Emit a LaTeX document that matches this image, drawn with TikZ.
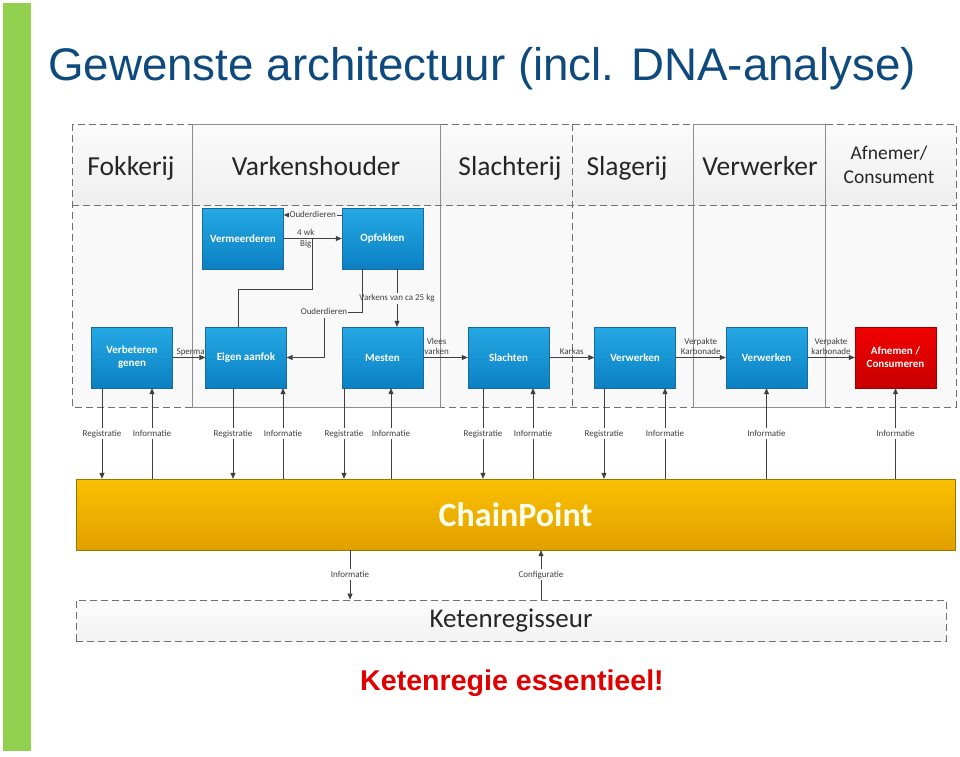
\documentclass[tikz,border=0pt]{standalone}
\usepackage{fontspec}
\setmainfont{Carlito}
\newfontfamily\titlefont{Liberation Sans}
\usetikzlibrary{arrows.meta, positioning, calc}
\definecolor{slidegreen}{HTML}{92D050}
\definecolor{titleblue}{HTML}{0E4A7E}
\definecolor{boxtop}{HTML}{25A9E4}
\definecolor{boxbot}{HTML}{0B80C3}
\definecolor{boxline}{HTML}{1A6AA0}
\definecolor{redtop}{HTML}{F20000}
\definecolor{redbot}{HTML}{C80000}
\definecolor{cptop}{HTML}{FAC000}
\definecolor{cpbot}{HTML}{E2A000}
\definecolor{cpline}{HTML}{9C7400}
\definecolor{linegray}{HTML}{404040}
\definecolor{lanegray}{HTML}{707070}
\definecolor{lanebg}{HTML}{F9F9F9}
\definecolor{slogan}{HTML}{E00000}

\begin{document}
\begin{tikzpicture}[x=1pt, y=-1pt,
    proc/.style={rectangle, draw=boxline, top color=boxtop, bottom color=boxbot, text=white, minimum width=81pt, minimum height=61pt, inner sep=1pt, align=center, font=\fontsize{11}{13}\selectfont\bfseries},
    endproc/.style={proc, draw=redbot!80!black, top color=redtop, bottom color=redbot},
    arr/.style={-{Triangle[length=6pt, width=5pt]}, draw=linegray, line width=0.7pt},
    link/.style={draw=linegray, line width=0.7pt},
    lbl/.style={text=linegray, inner sep=1pt, text height=0.7em, text depth=0.2em, align=center, font=\fontsize{9}{10}\selectfont},
    hdr/.style={anchor=base, text=black!85, align=center, font=\fontsize{27.5}{29}\selectfont},
    lane/.style={draw=lanegray, line width=0.8pt, dash pattern=on 7pt off 4pt},
    lanesolid/.style={draw=lanegray!80, line width=0.6pt},
  ]
  \useasboundingbox (0,0) rectangle (960,756);
  \fill[slidegreen] (3,3) rectangle (31,751);
  \node[anchor=base west, inner sep=0pt, text=titleblue, font=\titlefont\fontsize{45.7}{50}\selectfont] (title) at (48,80) {Gewenste architectuur (incl. DNA-analyse)};

  % swimlanes
  \fill[lanebg] (72,205) rectangle (956,407);
  \shade[top color=gray!3, bottom color=gray!13] (72,124) rectangle (956,205);
  \draw[lane] (72,124) rectangle (956,407);
  \draw[lane] (72,205) -- (956,205);
  \draw[lane] (572,124) -- (572,407);
  \draw[lanesolid] (192,124) rectangle (440,407);
  \draw[lanesolid] (693,124) rectangle (825,407);

  \node[hdr] (hfok) at (131,175) {Fokkerij};
  \node[hdr] (hvark) at (316,175) {Varkenshouder};
  \node[hdr] (hslacht) at (510,175) {Slachterij};
  \node[hdr] (hslag) at (627,175) {Slagerij};
  \node[hdr] (hverw) at (760,175) {Verwerker};
  \node[hdr, anchor=center, font=\fontsize{19.5}{24}\selectfont] (hafn) at (889,165) {Afnemer/\\Consument};

  % processes
  \node[proc] (verm) at (243,238.5) {Vermeerderen};
  \node[proc] (opf) at (382.5,238.5) {Opfokken};
  \node[proc] (verb) at (132,357.5) {Verbeteren\\genen};
  \node[proc] (eigen) at (246,357.5) {Eigen aanfok};
  \node[proc] (mest) at (382.5,357.5) {Mesten};
  \node[proc] (slacht) at (508.5,357.5) {Slachten};
  \node[proc] (verw1) at (635,357.5) {Verwerken};
  \node[proc] (verw2) at (766.5,357.5) {Verwerken};
  \node[endproc] (afn) at (895.5,357.5) {Afnemen /\\Consumeren};

  % flows between the processes
  \draw[arr] (verm.east) -- (opf.west) node[lbl, above, pos=0.38] {4 wk} node[lbl, below, pos=0.38] {Big};
  \draw[arr] ([yshift=23.5pt]opf.west) -- ([yshift=23.5pt]verm.east) node[lbl, fill=lanebg, midway] {Ouderdieren};
  \draw[arr] ([xshift=14.5pt]opf.south) -- ([xshift=14.5pt]mest.north) node[lbl, fill=lanebg, midway] {Varkens van ca 25 kg};
  \coordinate (od) at (324,312);
  \draw[arr] ([xshift=-20.5pt]opf.south) |- (od) -- (od |- eigen.east) -- (eigen.east);
  \node[lbl, fill=lanebg] (odl) at (od) {Ouderdieren};
  \coordinate (bigj) at (312,238.5);
  \draw[link] ([xshift=-8pt]eigen.north) -- ++(0,-37) -| (bigj);
  \draw[arr] (verb.east) -- (eigen.west) node[lbl, above, pos=0.55] {Sperma};
  \draw[arr] (mest.east) -- (slacht.west) node[lbl, above, pos=0.3] {Vlees\\varken};
  \draw[arr] (slacht.east) -- (verw1.west) node[lbl, above, pos=0.5] {Karkas};
  \draw[arr] (verw1.east) -- (verw2.west) node[lbl, above, pos=0.5] {Verpakte\\Karbonade};
  \draw[arr] (verw2.east) -- (afn.west) node[lbl, above, pos=0.5] {Verpakte\\karbonade};

  % ChainPoint
  \node[rectangle, draw=cpline, top color=cptop, bottom color=cpbot, minimum width=879pt, minimum height=71pt, text=white!92!yellow, font=\fontsize{34}{36}\selectfont\bfseries] (cp) at (515.5,514.5) {ChainPoint};

  \foreach \b/\dx in {verb/-30, eigen/-13, mest/-38.5, slacht/-25.5, verw1/-31} {
    \coordinate (r) at ([xshift=\dx pt]\b.south);
    \draw[arr] (r) -- (r |- cp.north) node[lbl, fill=white, midway] {Registratie};
  }
  \foreach \b/\dx in {verb/20, eigen/37, mest/8.5, slacht/24.5, verw1/30, verw2/0, afn/0} {
    \coordinate (i) at ([xshift=\dx pt]\b.south);
    \draw[arr] (i |- cp.north) -- (i) node[lbl, fill=white, midway] {Informatie};
  }

  % Ketenregisseur
  \node[rectangle, lane, top color=gray!2, bottom color=gray!10, minimum width=870pt, minimum height=41pt, text=black!85, font=\fontsize{27}{29}\selectfont] (keten) at (511,620.5) {Ketenregisseur};
  \coordinate (ki) at ([xshift=-161pt]keten.north);
  \draw[arr] (ki |- cp.south) -- (ki) node[lbl, fill=white, midway] {Informatie};
  \coordinate (kc) at ([xshift=30pt]keten.north);
  \draw[arr] (kc) -- (kc |- cp.south) node[lbl, fill=white, midway] {Configuratie};

  \node[anchor=base, inner sep=0pt, text=slogan, font=\titlefont\bfseries\fontsize{28.6}{30}\selectfont] (slogantxt) at (512,690) {Ketenregie essentieel!};
\end{tikzpicture}
\end{document}
